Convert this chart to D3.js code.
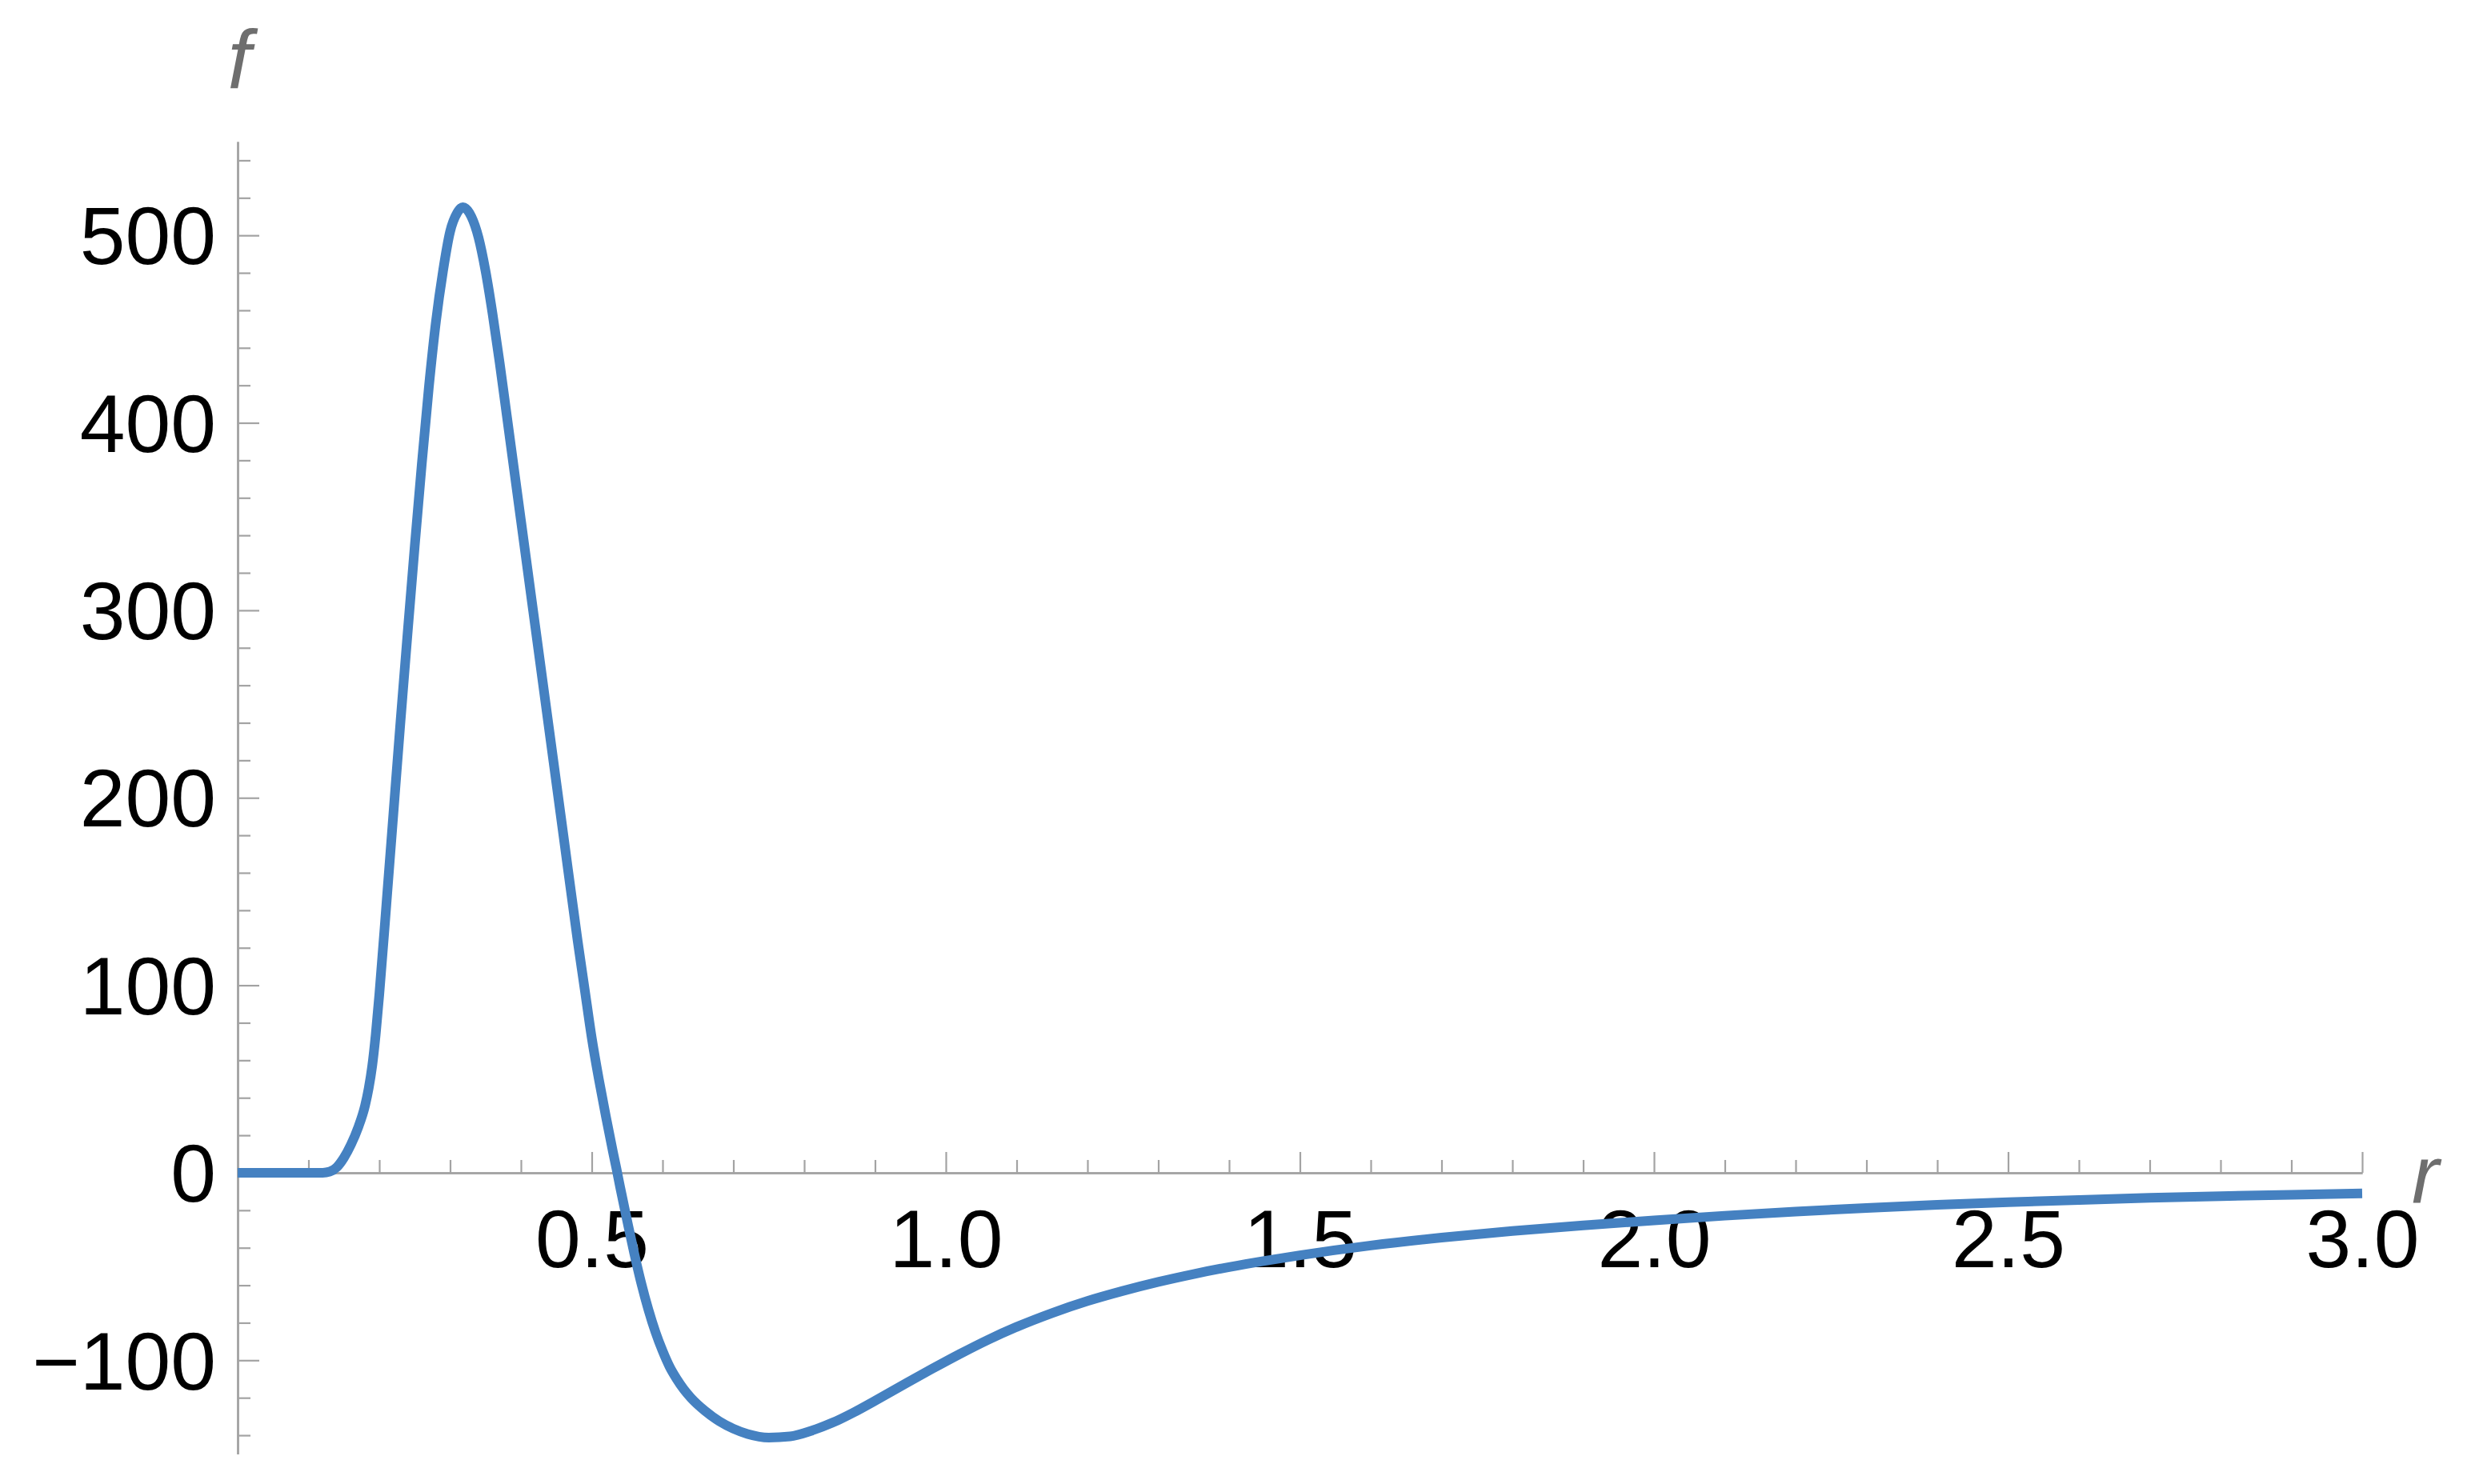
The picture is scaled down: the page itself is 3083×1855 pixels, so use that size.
<!DOCTYPE html>
<html>
<head>
<meta charset="utf-8">
<script src="https://cdn.jsdelivr.net/npm/d3@7"></script>
<style>
	html, body { margin: 0; padding: 0; background: #ffffff; }
	svg { display: block; }
</style>
</head>
<body>
<div id="chart"></div>
<script>
// curve f(r)
var rValues = [0, 0.06, 0.12, 0.13, 0.14, 0.15, 0.16, 0.17, 0.18, 0.185, 0.19, 0.195, 0.2, 0.21, 0.22, 0.23, 0.24, 0.25,
	0.26, 0.27, 0.28, 0.29, 0.3, 0.31, 0.318, 0.33, 0.34, 0.35, 0.36, 0.37, 0.38, 0.4, 0.42, 0.44, 0.46, 0.48, 0.49,
	0.5, 0.51, 0.52, 0.53, 0.535, 0.54, 0.55, 0.56, 0.57, 0.58, 0.59, 0.6, 0.61, 0.62, 0.63, 0.64, 0.66, 0.68, 0.7,
	0.72, 0.75, 0.78, 0.81, 0.84, 0.87, 0.9, 0.945, 0.98, 1.02, 1.06, 1.1, 1.15, 1.2, 1.25, 1.3, 1.35, 1.4, 1.45, 1.5,
	1.6, 1.7, 1.8, 1.9, 2.0, 2.1, 2.2, 2.3, 2.4, 2.5, 2.6, 2.7, 2.8, 2.9, 3.0];
var fValues = [0, 0, 0, 0.6, 3, 8, 15, 24, 36, 45, 57, 74, 95, 143, 192, 241, 288, 334,
	378, 419, 454, 481, 502, 512, 515, 510, 499, 481, 458, 432, 404, 348, 292, 236, 180, 124, 98,
	72, 50, 30, 11, 2, -7.5, -25.5, -43, -59, -73, -85, -95, -103.5, -110, -115.5, -120, -127, -132.5, -136.5,
	-139.3, -141.2, -140.6, -137.6, -133.3, -127.8, -121.6, -112, -104.7, -96.6, -89, -82.2, -74.8, -68.4, -63, -58.2, -54, -50.3, -47, -44,
	-38.8, -34.6, -31.1, -28.1, -25.4, -22.9, -20.7, -18.8, -17.1, -15.7, -14.5, -13.4, -12.5, -11.7, -11];

var xMajorTicks = [0.5, 1.0, 1.5, 2.0, 2.5, 3.0];
var xMinorTicks = d3.range(1, 31).map((i) => i / 10).filter((v) => Math.round(v * 10) % 5 !== 0);
var yMajorTicks = [-100, 0, 100, 200, 300, 400, 500];
var yMinorTicks = d3.range(-140, 560, 20).filter((v) => v % 100 !== 0);

var xLabel = 'r';
var yLabel = 'f';

var width = 3083;
var height = 1855;

var axisColor = '#a3a3a3';
var labelColor = '#6e6e6e';
var lineColor = '#4581c1';
var font = "'Liberation Sans', Arial, Helvetica, sans-serif";

var data = rValues.map((r, i) => ({ r: r, f: fValues[i] }));

var svg = d3
	.select('#chart')
	.append('svg')
	.attr('width', width)
	.attr('height', height)
	.style('background', '#ffffff');

var x = d3.scaleLinear().domain([0, 3]).range([297, 2952]);
var y = d3.scaleLinear().domain([-150, 550]).range([1817.5, 177]);

var styleAxis = (g) => {
	g.select('.domain').attr('stroke', axisColor).attr('stroke-width', 2.5);
	g.selectAll('.tick line').attr('stroke', axisColor).attr('stroke-width', 2.2);
	g.selectAll('text')
		.attr('fill', '#000000')
		.attr('font-family', font)
		.attr('font-size', '102px');
};

// x axis: ticks point up, labels sit below the line
svg.append('g')
	.attr('transform', 'translate(0,' + y(0) + ')')
	.call(d3.axisTop(x).tickValues(xMinorTicks).tickSize(16).tickSizeOuter(0).tickFormat(''))
	.call(styleAxis);

svg.append('g')
	.attr('transform', 'translate(0,' + y(0) + ')')
	.call(d3.axisTop(x).tickValues(xMajorTicks).tickSize(26).tickSizeOuter(0).tickFormat(d3.format('.1f')))
	.call(styleAxis)
	.call((g) => g.selectAll('text').attr('y', 118).attr('dy', 0).attr('text-anchor', 'middle'));

// y axis: ticks point right, labels on the left
svg.append('g')
	.attr('transform', 'translate(' + x(0) + ',0)')
	.call(d3.axisRight(y).tickValues(yMinorTicks).tickSize(16).tickSizeOuter(0).tickFormat(''))
	.call(styleAxis);

svg.append('g')
	.attr('transform', 'translate(' + x(0) + ',0)')
	.call(d3.axisRight(y).tickValues(yMajorTicks).tickSize(27).tickSizeOuter(0).tickFormat(d3.format('d')))
	.call(styleAxis)
	.call((g) => g.selectAll('text').attr('x', -27).attr('dy', '0.35em').attr('text-anchor', 'end'));

// axis names
svg.append('text')
	.attr('x', x(0) + 2)
	.attr('y', 110)
	.attr('text-anchor', 'middle')
	.attr('font-family', font)
	.attr('font-style', 'italic')
	.attr('font-size', '104px')
	.attr('fill', labelColor)
	.text(yLabel);

svg.append('text')
	.attr('x', x(3) + 62)
	.attr('y', 1503)
	.attr('text-anchor', 'start')
	.attr('font-family', font)
	.attr('font-style', 'italic')
	.attr('font-size', '102px')
	.attr('fill', labelColor)
	.text(xLabel);

// the curve
var line = d3
	.line()
	.x((d) => x(d.r))
	.y((d) => y(d.f))
	.curve(d3.curveMonotoneX);

svg.append('path')
	.datum(data)
	.attr('fill', 'none')
	.attr('stroke', lineColor)
	.attr('stroke-width', 12)
	.attr('stroke-linejoin', 'round')
	.attr('d', line);
</script>
</body>
</html>
